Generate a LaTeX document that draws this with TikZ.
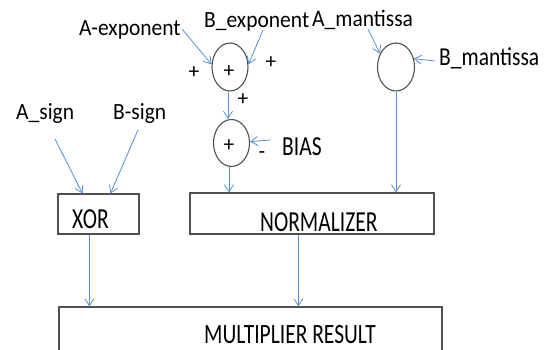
\documentclass[tikz,border=0pt]{standalone}
\usepackage{fontspec}
\setmainfont{Carlito}
\usepackage{graphicx}
\usetikzlibrary{arrows.meta,shapes.geometric}
\definecolor{arrowblue}{RGB}{91,142,210}
\definecolor{boxgray}{RGB}{80,80,80}
\newcommand{\vstretch}[2]{\scalebox{1}[#1]{#2}}
\begin{document}
\begin{tikzpicture}[x=1pt,y=-1pt,
  lab/.style={inner sep=0pt, anchor=base west, font=\fontsize{21.5}{24}\selectfont},
  sgn/.style={inner sep=0pt, anchor=center, font=\fontsize{21.5}{24}\selectfont},
  adder/.style={ellipse, draw=boxgray, line width=1.1pt, minimum width=36pt, minimum height=48pt, inner sep=0pt},
  blk/.style={draw=boxgray, line width=1.1pt, rectangle, inner sep=0pt},
  conn/.style={draw=arrowblue, line width=0.8pt, -{Straight Barb[length=7pt,width=9pt]}}
]
\useasboundingbox (0,0) rectangle (552,349);
\clip (0,0) rectangle (552,349);

% labels
\node[lab] (aexp) at (79,35) {\vstretch{1.08}{A-exponent}};
\node[lab] (bexp) at (204,27) {\vstretch{1.08}{B\_exponent}};
\node[lab] (aman) at (312,26) {\vstretch{1.1}{A\_mantissa}};
\node[lab] (bman) at (439,65) {\vstretch{1.2}{B\_mantissa}};
\node[lab] (asign) at (16,119) {\vstretch{1.08}{A\_sign}};
\node[lab] (bsign) at (113,119) {\vstretch{1.08}{B-sign}};
\node[lab] (bias) at (282,155) {\vstretch{1.28}{BIAS}};

% adders
\node[adder] (e1) at (230,67) {};
\node[adder, minimum height=47pt] (e2) at (231.5,143) {};
\node[adder, minimum width=37pt] (e3) at (396,67) {};

% signs
\node[sgn] (p1) at (194,73) {+};
\node[sgn] (p2) at (229,72) {+};
\node[sgn] (p3) at (271,63) {+};
\node[sgn] (p4) at (243,100) {+};
\node[sgn] (p5) at (229,146) {+};
\node[sgn] (m1) at (262,155) {-};

% blocks
\node[blk, minimum width=81pt, minimum height=40pt] (xor) at (98.5,214) {};
\node[blk, minimum width=244pt, minimum height=41pt] (norm) at (312,213.5) {};
\node[blk, minimum width=383pt, minimum height=45pt] (mult) at (250.5,329.5) {};
\node[lab] (xort) at (72,228) {\vstretch{1.35}{XOR}};
\node[lab] (normt) at (260,231) {\vstretch{1.35}{NORMALIZER}};
\node[lab] (multt) at (204,343) {\vstretch{1.3}{MULTIPLIER RESULT}};

% arrow start points
\coordinate (aexpS) at (182,29);
\coordinate (bexpS) at (263,30);
\coordinate (amanS) at (368,29);
\coordinate (bmanS) at (435,61);
\coordinate (biasS) at (270,140);
\coordinate (asignS) at (55,139);
\coordinate (bsignS) at (138,130);

% connectors
\draw[conn] (aexpS) -- (e1.172);
\draw[conn] (bexpS) -- (e1.8);
\draw[conn] ([xshift=-2pt]e1.south) -- ([xshift=-2pt]e1.south |- e2.north);
\draw[conn] (biasS) -- (e2.4);
\draw[conn] ([xshift=-2.5pt]e2.south) -- ([xshift=-2.5pt]e2.south |- norm.north);
\draw[conn] (amanS) -- (e3.140);
\draw[conn] (bmanS) -- (e3.25);
\draw[conn] (e3.south) -- (e3.south |- norm.north);
\draw[conn] (asignS) -- ([xshift=25pt]xor.north west);
\draw[conn] (bsignS) -- ([xshift=53pt]xor.north west);
\draw[conn] ([xshift=32pt]xor.south west) -- ([xshift=31pt]mult.north west);
\draw[conn] ([xshift=109pt]norm.south west) -- ([xshift=240pt]mult.north west);
\end{tikzpicture}
\end{document}
